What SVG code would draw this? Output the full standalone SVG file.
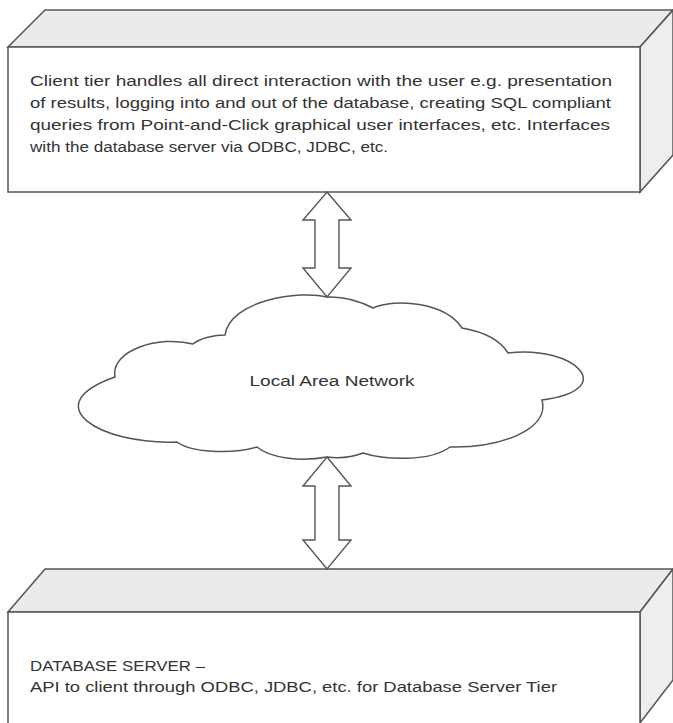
<svg xmlns="http://www.w3.org/2000/svg" width="673" height="723" viewBox="0 0 673 723">
<style>
.edge{stroke:#555;stroke-width:1.5;stroke-linejoin:miter}
.front{fill:#fff}
.top{fill:#ebebeb}
.side{fill:#eeeeee}
.t{font-family:"Liberation Sans",Arial,sans-serif;font-size:15.5px;fill:#333}
.arrow{fill:#fff;stroke:#555;stroke-width:1.4;stroke-linejoin:miter}
</style>
<rect width="673" height="723" fill="#fff"/>
<g id="client-tier">
<polygon class="top edge" points="8,47 45,10 673,10 640,47"/>
<polygon class="side edge" points="640,47 673,10 673,155 640,192"/>
<rect class="front edge" x="8" y="47" width="632" height="145"/>
<text class="t" x="30" y="86" textLength="582" lengthAdjust="spacingAndGlyphs">Client tier handles all direct interaction with the user e.g. presentation</text>
<text class="t" x="30" y="108" textLength="581" lengthAdjust="spacingAndGlyphs">of results, logging into and out of the database, creating SQL compliant</text>
<text class="t" x="30" y="130" textLength="580" lengthAdjust="spacingAndGlyphs">queries from Point-and-Click graphical user interfaces, etc. Interfaces</text>
<text class="t" x="30" y="152" textLength="358" lengthAdjust="spacingAndGlyphs">with the database server via ODBC, JDBC, etc.</text>
</g>
<g id="lan">
<path class="front edge" d="M327,297 Q350,296 373,308 C395,298 445,302 462,328 C485,332 500,340 508,353 C575,345 620,390 542,400 C550,430 500,448 450,447 C430,462 385,460 363,453 C350,458 335,458 327,457 C300,462 270,458 257,447 C230,455 190,452 177,442 C100,445 35,405 115,377 C110,350 160,335 193,344 C200,338 215,335 225,335 C230,300 300,290 327,297 Z"/>
<text class="t" x="332" y="386" text-anchor="middle" textLength="165" lengthAdjust="spacingAndGlyphs">Local Area Network</text>
</g>
<g id="db-server">
<polygon class="top edge" points="8,612 45,569 673,569 640,612"/>
<polygon class="side edge" points="640,612 673,569 673,680 640,723"/>
<rect class="front edge" x="8" y="612" width="632" height="120"/>
<text class="t" x="30" y="671" textLength="175" lengthAdjust="spacingAndGlyphs">DATABASE SERVER –</text>
<text class="t" x="30" y="692" textLength="527" lengthAdjust="spacingAndGlyphs">API to client through ODBC, JDBC, etc. for Database Server Tier</text>
</g>
<g id="connectors">
<polygon class="arrow" points="327,192 351,220 339,220 339,268 351,268 327,297 303,268 315,268 315,220 303,220"/>
<polygon class="arrow" points="327,457 351,486 339,486 339,540 351,540 327,569 303,540 315,540 315,486 303,486"/>
</g>
</svg>
